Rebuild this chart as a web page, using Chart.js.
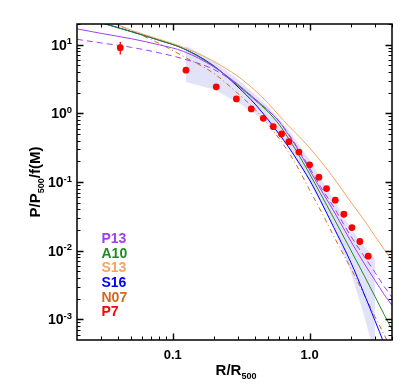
<!DOCTYPE html>
<html>
<head>
<meta charset="utf-8">
<script src="https://cdn.jsdelivr.net/npm/chart.js"></script>
<style>
  html, body { margin: 0; padding: 0; background: #ffffff; }
  #wrap { width: 415px; height: 390px; }
</style>
</head>
<body>
<div id="wrap"><canvas id="c" width="415" height="390"></canvas></div>
<script>
// ---------------- data ----------------
const xGrid = [0.02, 0.03, 0.05, 0.08, 0.12, 0.2, 0.3, 0.4, 0.5, 0.6, 0.7, 0.8, 1.0, 1.2, 1.5, 2.0, 2.5, 3.0, 3.5, 4.0];

const p13Solid  = [17.0, 14.6, 12.2, 9.93, 7.98, 4.74, 2.63, 1.61, 1.095, 0.756, 0.489, 0.326, 0.150, 0.0793, 0.0378, 0.01377, 0.00656, 0.00371, 0.00231, 0.00160];
const p13Dashed = [11.96, 10.6, 9.13, 7.59, 6.20, 4.35, 2.58, 1.61, 1.095, 0.769, 0.505, 0.337, 0.1607, 0.0862, 0.0433, 0.0163, 0.00831, 0.00485, 0.00303, 0.00209];
const a10 = [25.9, 20.8, 15.4, 11.56, 8.74, 4.82, 2.54, 1.56, 1.04, 0.684, 0.434, 0.285, 0.1313, 0.0681, 0.0299, 0.01017, 0.00438, 0.00216, 0.00118, 0.000712];
const s13 = [30.7, 24.2, 16.2, 11.96, 9.13, 5.70, 3.44, 2.15, 1.386, 0.926, 0.661, 0.505, 0.315, 0.2035, 0.1148, 0.0512, 0.0279, 0.0163, 0.01052, 0.00726];
const s16 = [25.8, 20.9, 15.5, 11.56, 8.77, 4.90, 2.42, 1.363, 0.798, 0.496, 0.326, 0.218, 0.107, 0.0538, 0.0219, 0.00679, 0.00236, 0.000964, 0.000444, 0.000212];
const n07 = [33.9, 24.6, 15.9, 10.4, 6.74, 3.81, 1.94, 1.133, 0.684, 0.427, 0.275, 0.178, 0.0766, 0.0391, 0.0163, 0.00555, 0.00231, 0.00110, 0.000601, 0.000351];

const bandX    = [0.125, 0.2, 0.3, 0.4, 0.5, 0.7, 1.0, 1.5, 2.0, 2.5, 3.0];
const bandHigh = [9.77, 5.70, 3.11, 1.88, 1.25, 0.578, 0.2105, 0.0547, 0.0213, 0.01163, 0.00777];
const bandLow  = [2.86, 2.22, 1.43, 0.99, 0.707, 0.315, 0.1003, 0.0213, 0.00485, 0.00114, 0.0003];

const p7X = [0.0414, 0.125, 0.208, 0.292, 0.375, 0.459, 0.543, 0.624, 0.706, 0.835, 1.0, 1.17, 1.33, 1.54, 1.78, 2.04, 2.33, 2.68];
const p7Y = [9.04, 4.25, 2.43, 1.62, 1.16, 0.845, 0.639, 0.500, 0.386, 0.273, 0.178, 0.1175, 0.0801, 0.0544, 0.0339, 0.0217, 0.0136, 0.00831];
const p7ErrLow  = [7.22, null, null, null, null, null, null, null, null, null, null, null, null, null, null, null, null, null];
const p7ErrHigh = [10.9, null, null, null, null, null, null, null, null, null, null, null, null, null, null, null, null, null];

const xMajorTicks = [0.1, 1.0];
const xTickLabels = ['0.1', '1.0'];
const xMinorTicks = [0.03, 0.04, 0.05, 0.06, 0.07, 0.08, 0.09, 0.2, 0.3, 0.4, 0.5, 0.6, 0.7, 0.8, 0.9, 2, 3, 4];
const yMajorTicks = [0.001, 0.01, 0.1, 1, 10];
const yTickExponents = ['-3', '-2', '-1', '0', '1'];
const yMinorTicks = [0.0006, 0.0007, 0.0008, 0.0009, 0.002, 0.003, 0.004, 0.005, 0.006, 0.007, 0.008, 0.009,
  0.02, 0.03, 0.04, 0.05, 0.06, 0.07, 0.08, 0.09, 0.2, 0.3, 0.4, 0.5, 0.6, 0.7, 0.8, 0.9,
  2, 3, 4, 5, 6, 7, 8, 9, 20];

const legendNames = ['P13', 'A10', 'S13', 'S16', 'N07', 'P7'];
const xTitle = ['R/R', '500'];
const yTitle = ['P/P', '500', '/f(M)'];

// ---------------- styles ----------------
const COL = { p13: '#a040f0', a10: '#228b22', s13: '#f4a460', s16: '#0000ff', n07: '#d2691e', p7: '#ff0000' };
const legendColors = [COL.p13, COL.a10, COL.s13, COL.s16, COL.n07, COL.p7];
const FONT = '"Liberation Sans", Arial, Helvetica, sans-serif';

const pts = (xs, ys) => xs.map((x, i) => ({ x: x, y: ys[i] }));

function lineDs(label, ys, color, dash) {
  return {
    label: label, data: pts(xGrid, ys), borderColor: color, backgroundColor: color,
    borderWidth: 1, pointRadius: 0, fill: false, borderDash: dash || [],
    cubicInterpolationMode: 'monotone'
  };
}

const customDraw = {
  id: 'customDraw',
  afterDatasetsDraw(chart) {
    const ctx = chart.ctx, xs = chart.scales.x, ys = chart.scales.y;
    ctx.save();
    ctx.strokeStyle = COL.p7; ctx.lineWidth = 1.3;
    p7X.forEach((x, i) => {
      if (p7ErrLow[i] == null) return;
      const px = xs.getPixelForValue(x);
      ctx.beginPath();
      ctx.moveTo(px, ys.getPixelForValue(p7ErrHigh[i]));
      ctx.lineTo(px, ys.getPixelForValue(p7ErrLow[i]));
      ctx.stroke();
    });
    ctx.restore();
  },
  afterDraw(chart) {
    const ctx = chart.ctx, xs = chart.scales.x, ys = chart.scales.y;
    const a = chart.chartArea;
    ctx.save();
    // frame
    ctx.strokeStyle = '#000'; ctx.lineWidth = 1.5;
    ctx.strokeRect(a.left, a.top, a.right - a.left, a.bottom - a.top);
    // ticks
    const tick = (vals, len, lw) => {
      ctx.lineWidth = lw;
      vals.forEach(v => {
        const px = Math.round(xs.getPixelForValue(v)) + 0.5;
        ctx.beginPath();
        ctx.moveTo(px, a.bottom); ctx.lineTo(px, a.bottom - len);
        ctx.moveTo(px, a.top); ctx.lineTo(px, a.top + len);
        ctx.stroke();
      });
    };
    const ytick = (vals, len, lw) => {
      ctx.lineWidth = lw;
      vals.forEach(v => {
        const py = Math.round(ys.getPixelForValue(v)) + 0.5;
        ctx.beginPath();
        ctx.moveTo(a.left, py); ctx.lineTo(a.left + len, py);
        ctx.moveTo(a.right, py); ctx.lineTo(a.right - len, py);
        ctx.stroke();
      });
    };
    tick(xMinorTicks, 3.5, 1); tick(xMajorTicks, 6.5, 1.4);
    ytick(yMinorTicks, 3.5, 1); ytick(yMajorTicks, 6.5, 1.4);

    ctx.fillStyle = '#000';
    // x tick labels
    ctx.font = 'bold 13px ' + FONT;
    ctx.textAlign = 'center'; ctx.textBaseline = 'alphabetic';
    xMajorTicks.forEach((v, i) => {
      ctx.fillText(xTickLabels[i], xs.getPixelForValue(v), a.bottom + 18.5);
    });
    // y tick labels 10^n
    yMajorTicks.forEach((v, i) => {
      const py = ys.getPixelForValue(v);
      ctx.font = 'bold 9.5px ' + FONT;
      const wSup = ctx.measureText(yTickExponents[i]).width;
      const right = a.left - 5;
      ctx.textAlign = 'right';
      ctx.fillText(yTickExponents[i], right, py - 0.5);
      ctx.font = 'bold 14px ' + FONT;
      ctx.fillText('10', right - wSup, py + 5);
    });
    // x title
    ctx.textAlign = 'left';
    ctx.font = 'bold 15px ' + FONT;
    const w1 = ctx.measureText(xTitle[0]).width;
    ctx.font = 'bold 9px ' + FONT;
    const w2 = ctx.measureText(xTitle[1]).width;
    let x0 = 236 - (w1 + w2) / 2;
    ctx.font = 'bold 15px ' + FONT; ctx.fillText(xTitle[0], x0, 375);
    ctx.font = 'bold 9px ' + FONT; ctx.fillText(xTitle[1], x0 + w1, 378.5);
    // y title (rotated)
    ctx.save();
    ctx.translate(40, 182);
    ctx.rotate(-Math.PI / 2);
    ctx.font = 'bold 15px ' + FONT; const t1 = ctx.measureText(yTitle[0]).width;
    ctx.font = 'bold 9px ' + FONT; const t2 = ctx.measureText(yTitle[1]).width;
    ctx.font = 'bold 15px ' + FONT; const t3 = ctx.measureText(yTitle[2]).width;
    let s = -(t1 + t2 + t3) / 2;
    ctx.font = 'bold 15px ' + FONT; ctx.fillText(yTitle[0], s, 0);
    ctx.font = 'bold 9px ' + FONT; ctx.fillText(yTitle[1], s + t1, 3.5);
    ctx.font = 'bold 15px ' + FONT; ctx.fillText(yTitle[2], s + t1 + t2, 0);
    ctx.restore();
    // legend text
    ctx.font = 'bold 14px ' + FONT;
    ctx.textAlign = 'left'; ctx.textBaseline = 'middle';
    legendNames.forEach((n, i) => {
      ctx.fillStyle = legendColors[i];
      ctx.fillText(n, a.left + 24.5, a.top + 215 + i * 14.7);
    });
    ctx.restore();
  }
};

new Chart(document.getElementById('c'), {
  type: 'line',
  data: {
    datasets: [
      { label: 'P7', data: pts(p7X, p7Y), showLine: false, pointRadius: 3.4, pointHoverRadius: 3.4,
        pointBackgroundColor: COL.p7, pointBorderWidth: 0, borderColor: COL.p7, backgroundColor: COL.p7 },
      lineDs('P13', p13Solid, COL.p13),
      lineDs('P13 dashed', p13Dashed, COL.p13, [6, 4]),
      lineDs('A10', a10, COL.a10),
      lineDs('S13', s13, COL.s13),
      lineDs('S16', s16, COL.s16),
      lineDs('N07', n07, COL.n07, [5, 3, 1, 3]),
      { label: 'band high', data: pts(bandX, bandHigh), borderWidth: 0, pointRadius: 0,
        borderColor: 'rgba(0,0,0,0)', backgroundColor: 'rgba(185,185,240,0.42)', fill: '+1' },
      { label: 'band low', data: pts(bandX, bandLow), borderWidth: 0, pointRadius: 0,
        borderColor: 'rgba(0,0,0,0)', fill: false }
    ]
  },
  options: {
    responsive: false,
    animation: false,
    layout: { padding: { left: 0, right: 23, top: 24, bottom: 0 } },
    plugins: {
      legend: { display: false },
      tooltip: { enabled: false },
      filler: { drawTime: 'beforeDatasetsDraw' }
    },
    scales: {
      x: { type: 'logarithmic', min: 0.02, max: 4,
           grid: { display: false }, border: { display: false }, ticks: { display: false },
           afterFit(s) { s.height = 50; } },
      y: { type: 'logarithmic', min: 0.0005, max: 20,
           grid: { display: false }, border: { display: false }, ticks: { display: false },
           afterFit(s) { s.width = 77; } }
    }
  },
  plugins: [customDraw]
});
</script>
</body>
</html>
